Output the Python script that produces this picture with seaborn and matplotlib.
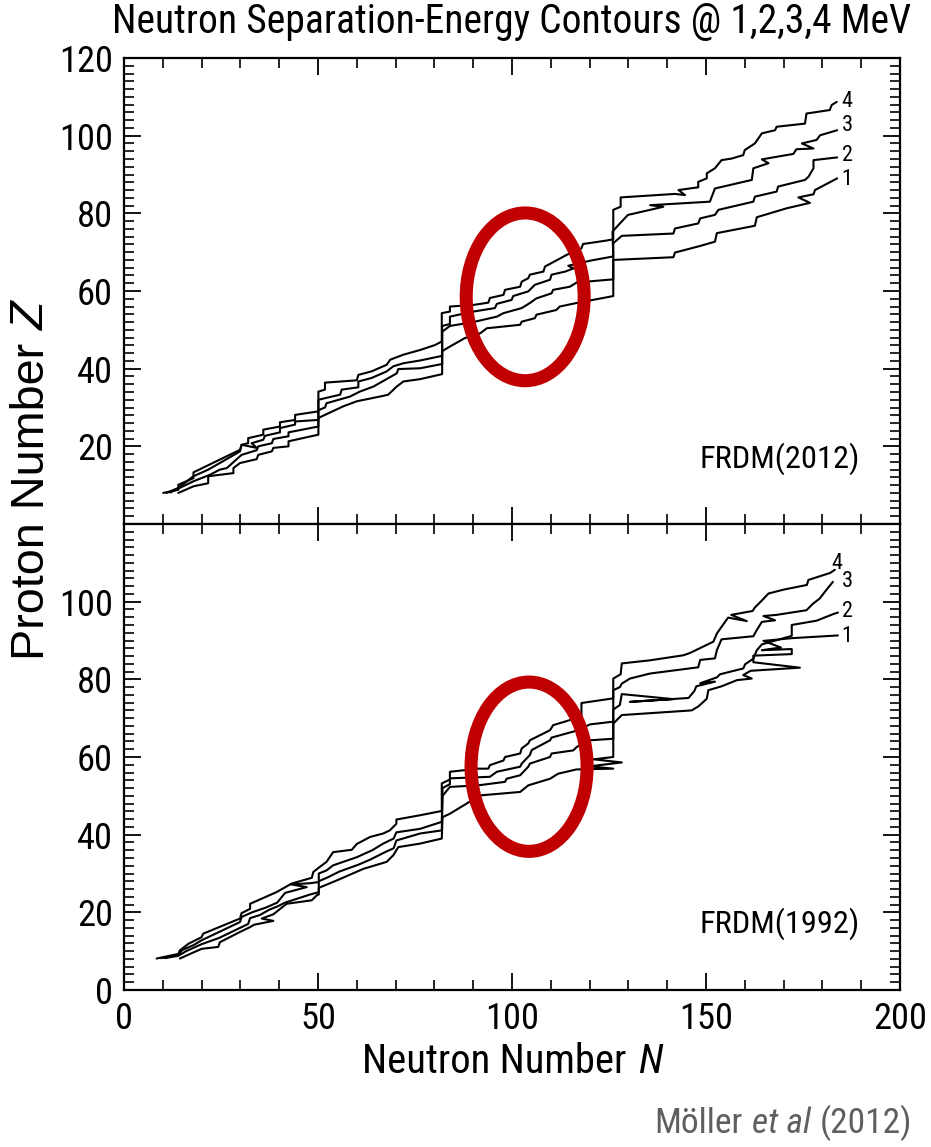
import numpy as np
import matplotlib
matplotlib.use("Agg")
import matplotlib.pyplot as plt
import seaborn as sns
from matplotlib.patches import Ellipse
from matplotlib.ticker import MultipleLocator
from matplotlib import font_manager as fm

# ---------------- data ----------------
# FRDM(2012) contours, S_n = 1,2,3,4 MeV
N_2012_1 = [14.0, 17.9, 21.7, 21.7, 28.2, 28.2, 29.9, 34.2, 34.6, 38.1, 38.5, 42.4, 42.4, 50.1, 50.1, 51.8, 56.5, 60.0, 66.8, 68.1, 70.3, 72.0, 76.3, 82.0, 82.0, 84.0, 87.9, 91.8, 93.5, 102.1, 102.5, 105.9, 106.3, 111.4, 112.3, 116.6, 126.1, 126.1, 141.6, 142.0, 148.5, 152.3, 152.8, 162.6, 163.1, 170.8, 176.8, 173.8, 177.7, 178.1, 183.8]
Z_2012_1 = [8.0, 9.7, 10.5, 12.3, 13.1, 14.4, 15.7, 16.7, 17.8, 18.7, 19.6, 20.0, 21.3, 23.0, 27.3, 28.1, 30.3, 31.6, 33.0, 33.3, 35.4, 36.7, 37.3, 38.6, 44.5, 45.7, 47.9, 49.1, 50.4, 51.3, 52.1, 53.0, 53.9, 55.1, 56.0, 56.9, 58.7, 68.0, 68.7, 69.9, 71.6, 72.7, 74.9, 76.8, 79.0, 81.3, 82.7, 84.1, 84.9, 86.0, 89.0]

N_2012_2 = [11.9, 17.9, 22.2, 24.7, 26.5, 30.3, 34.2, 34.6, 38.1, 38.5, 42.4, 42.4, 50.1, 50.1, 51.8, 52.2, 58.2, 60.8, 64.3, 70.3, 70.7, 76.3, 82.0, 82.0, 84.0, 90.0, 96.1, 97.8, 102.5, 104.6, 106.3, 110.2, 110.6, 114.9, 116.7, 126.1, 126.1, 128.3, 141.6, 142.0, 148.0, 148.5, 152.3, 153.2, 162.2, 162.6, 168.2, 168.6, 175.5, 176.4, 177.7, 177.7, 183.8]
Z_2012_2 = [8.1, 11.0, 12.7, 14.0, 14.4, 17.8, 19.0, 20.0, 20.8, 21.9, 22.6, 23.6, 25.1, 29.3, 30.0, 31.1, 32.8, 34.1, 35.4, 38.8, 39.9, 40.1, 41.2, 49.5, 51.0, 52.0, 53.4, 54.3, 55.6, 56.9, 58.1, 59.4, 60.3, 61.1, 62.2, 63.0, 72.3, 74.2, 74.8, 76.1, 77.4, 78.7, 79.6, 80.9, 83.0, 84.3, 85.6, 86.9, 88.6, 89.4, 91.6, 93.7, 94.4]

N_2012_3 = [11.0, 14.0, 17.9, 21.7, 24.7, 29.9, 30.3, 34.2, 32.9, 35.9, 36.3, 40.2, 40.2, 44.1, 44.1, 50.1, 50.1, 55.7, 56.1, 60.4, 60.4, 63.8, 67.7, 69.4, 72.0, 76.3, 82.0, 82.0, 84.0, 84.0, 90.0, 95.6, 96.1, 99.9, 100.3, 104.2, 105.9, 109.8, 110.2, 113.7, 115.8, 114.5, 120.1, 126.1, 125.9, 127.8, 129.9, 135.6, 139.0, 135.6, 151.0, 151.5, 152.3, 161.8, 162.2, 166.1, 164.4, 172.5, 173.3, 177.7, 174.7, 178.5, 179.4, 183.8]
Z_2012_3 = [8.0, 9.3, 12.3, 14.0, 15.7, 18.7, 20.4, 19.6, 20.8, 21.7, 22.7, 23.6, 24.7, 25.6, 26.4, 26.8, 32.0, 33.3, 34.6, 35.2, 36.7, 37.6, 39.3, 40.6, 41.4, 42.1, 43.3, 51.0, 51.5, 53.4, 54.7, 55.6, 56.7, 57.7, 58.7, 59.9, 61.6, 62.9, 64.2, 65.0, 65.8, 66.5, 67.8, 68.9, 75.3, 77.4, 79.6, 80.9, 81.7, 82.1, 83.0, 84.3, 86.4, 88.6, 91.6, 92.9, 93.9, 95.3, 96.5, 96.7, 98.0, 98.9, 100.1, 101.4]

N_2012_4 = [10.1, 14.0, 14.0, 17.9, 17.9, 29.9, 30.3, 32.0, 32.0, 35.9, 35.9, 40.2, 40.2, 44.1, 44.1, 50.1, 50.1, 51.8, 51.8, 60.0, 60.4, 63.8, 67.7, 68.6, 72.0, 76.3, 80.2, 81.9, 81.9, 84.0, 84.0, 90.0, 93.9, 94.3, 97.8, 98.2, 102.1, 102.5, 104.2, 104.6, 108.1, 108.5, 114.1, 117.9, 118.3, 124.4, 126.1, 126.1, 128.0, 128.0, 142.0, 144.6, 142.9, 148.0, 148.0, 150.2, 150.2, 152.3, 154.0, 156.6, 159.6, 160.0, 162.6, 164.4, 167.8, 168.2, 175.5, 175.9, 181.9, 182.4, 183.7]
Z_2012_4 = [8.0, 8.8, 10.1, 11.8, 13.3, 19.1, 20.4, 20.8, 22.1, 23.0, 24.3, 25.1, 26.2, 26.8, 28.1, 29.0, 34.1, 34.6, 36.4, 37.0, 38.4, 39.3, 41.0, 42.3, 43.6, 44.8, 46.1, 47.0, 54.3, 54.7, 56.0, 56.4, 57.0, 58.2, 59.0, 60.3, 61.1, 62.4, 63.3, 64.2, 65.0, 66.3, 69.3, 71.0, 72.1, 73.0, 73.3, 80.9, 81.7, 84.1, 85.0, 84.7, 86.0, 86.7, 88.1, 89.0, 90.3, 91.6, 93.7, 94.1, 95.0, 96.3, 98.0, 100.6, 101.4, 102.3, 103.1, 105.7, 106.6, 107.9, 108.7]

# FRDM(1992) contours, S_n = 1,2,3,4 MeV
N_1992_1 = [14.4, 17.5, 20.0, 24.3, 24.7, 30.0, 32.5, 33.5, 38.5, 35.5, 38.5, 41.9, 48.4, 49.7, 50.2, 50.2, 54.8, 61.7, 67.7, 69.4, 70.7, 76.3, 81.9, 82.1, 84.0, 88.3, 91.7, 102.1, 104.2, 109.8, 111.9, 116.6, 126.1, 120.0, 128.3, 121.0, 126.1, 126.1, 128.3, 146.3, 148.0, 150.2, 150.6, 154.0, 158.0, 161.8, 159.6, 161.5, 174.2, 162.2, 162.2, 172.1, 172.1, 164.4, 169.3, 164.8, 172.1, 184.0]
Z_1992_1 = [8.1, 9.5, 10.6, 11.1, 12.3, 15.0, 16.2, 16.8, 17.8, 18.4, 19.5, 22.2, 23.1, 24.4, 24.6, 26.3, 28.2, 31.2, 33.0, 34.7, 36.8, 37.7, 39.0, 44.5, 45.4, 48.0, 50.1, 51.0, 52.7, 54.4, 55.7, 56.8, 57.0, 57.6, 58.6, 59.4, 60.0, 68.6, 70.8, 72.0, 73.0, 75.0, 77.2, 78.2, 79.8, 80.2, 81.1, 82.2, 83.0, 84.4, 86.1, 86.5, 87.8, 87.5, 88.2, 89.9, 90.6, 91.3]

N_1992_2 = [10.5, 14.0, 16.0, 20.0, 24.5, 29.9, 32.0, 32.5, 35.0, 37.5, 39.5, 41.5, 48.0, 50.2, 50.2, 52.5, 55.5, 60.5, 63.5, 67.5, 69.5, 70.2, 76.3, 81.9, 82.1, 84.0, 91.3, 98.2, 98.6, 102.1, 104.2, 104.6, 109.8, 110.2, 115.8, 116.7, 120.1, 126.1, 126.1, 127.8, 128.3, 141.6, 130.4, 145.5, 147.0, 147.5, 152.3, 148.5, 152.8, 153.6, 159.6, 160.1, 162.2, 163.1, 164.4, 172.1, 172.1, 178.5, 182.8, 184.0]
Z_1992_2 = [8.2, 8.8, 10.0, 11.8, 13.4, 16.0, 17.0, 18.5, 19.3, 20.7, 21.5, 22.5, 24.6, 25.2, 28.0, 29.0, 30.5, 32.3, 33.6, 35.6, 36.5, 38.5, 40.3, 41.1, 50.0, 52.3, 52.7, 53.6, 54.4, 55.3, 57.5, 58.3, 60.0, 60.9, 61.7, 62.6, 64.3, 64.7, 72.2, 73.4, 76.2, 74.9, 74.2, 75.2, 77.0, 78.2, 79.4, 79.0, 80.5, 81.3, 82.8, 83.9, 85.3, 87.5, 89.0, 91.2, 94.0, 95.1, 96.8, 97.2]

N_1992_3 = [9.5, 14.0, 15.0, 18.0, 20.0, 29.9, 30.3, 33.0, 36.5, 39.5, 41.5, 47.1, 43.0, 48.0, 50.2, 50.2, 52.2, 53.9, 60.0, 64.0, 66.8, 69.5, 70.2, 76.3, 81.9, 82.1, 84.0, 84.0, 94.3, 96.1, 102.1, 102.5, 104.6, 105.1, 109.8, 110.2, 117.1, 120.1, 126.1, 126.1, 127.8, 128.3, 130.4, 135.6, 148.0, 148.5, 152.3, 152.8, 154.0, 162.2, 163.1, 164.4, 167.8, 164.8, 168.2, 175.9, 177.6, 179.3, 181.0, 182.7]
Z_1992_3 = [8.2, 9.0, 10.3, 11.6, 12.8, 17.5, 18.8, 20.0, 21.2, 22.5, 25.0, 26.5, 27.2, 27.5, 27.8, 30.0, 30.8, 32.1, 34.2, 36.0, 37.7, 39.0, 40.6, 41.5, 43.3, 52.0, 53.0, 54.5, 54.9, 56.2, 57.5, 58.3, 60.5, 61.8, 64.3, 65.0, 66.9, 68.4, 69.1, 77.2, 78.0, 78.9, 80.2, 81.5, 83.1, 85.0, 85.4, 87.5, 90.3, 91.1, 92.7, 94.8, 95.2, 96.3, 96.6, 97.8, 99.5, 100.8, 103.0, 105.1]

N_1992_4 = [8.4, 14.0, 14.4, 16.6, 20.0, 20.4, 29.9, 30.3, 32.5, 32.5, 39.3, 43.2, 48.4, 48.8, 50.2, 52.2, 53.9, 58.7, 60.0, 63.4, 66.8, 68.5, 70.2, 70.2, 76.3, 81.9, 81.9, 84.0, 84.0, 91.3, 93.9, 94.3, 97.8, 98.2, 102.1, 102.5, 104.2, 104.6, 109.8, 110.6, 114.9, 117.9, 117.9, 126.1, 126.1, 128.0, 128.3, 135.6, 144.2, 145.9, 151.9, 152.8, 154.0, 155.7, 160.5, 156.5, 162.0, 162.6, 164.4, 166.1, 170.0, 176.0, 176.4, 182.0, 183.2]
Z_1992_4 = [8.1, 9.3, 10.2, 11.9, 13.6, 14.5, 18.4, 19.8, 20.9, 22.2, 25.2, 27.4, 28.9, 30.4, 31.5, 33.0, 35.5, 36.1, 37.6, 39.4, 40.3, 41.1, 42.8, 43.9, 45.0, 46.1, 53.2, 54.2, 56.2, 57.0, 57.0, 57.9, 59.1, 60.0, 60.9, 62.2, 63.5, 64.3, 66.9, 68.2, 69.5, 70.3, 73.9, 75.1, 80.2, 81.3, 84.1, 84.9, 86.2, 86.8, 89.7, 91.8, 93.5, 95.9, 95.0, 96.6, 97.6, 98.5, 100.3, 102.1, 103.1, 104.3, 105.6, 107.4, 108.2]

contour_names = ["1", "2", "3", "4"]
label_N_2012 = [185.0, 185.0, 185.0, 185.0]
label_Z_2012 = [88.8, 95.0, 102.5, 108.9]
label_N_1992 = [185.0, 185.0, 185.0, 182.4]
label_Z_1992 = [91.1, 97.4, 105.1, 109.9]

x_ticks = [0, 50, 100, 150, 200]
y_ticks = [0, 20, 40, 60, 80, 100, 120]
y_labels_top = ["", "20", "40", "60", "80", "100", "120"]
y_labels_bot = ["0", "20", "40", "60", "80", "100", ""]

title = "Neutron Separation-Energy Contours @ 1,2,3,4 MeV"
model_2012 = "FRDM(2012)"
model_1992 = "FRDM(1992)"

# ---------------- style ----------------
sns.set_style("ticks")
avail = {f.name for f in fm.fontManager.ttflist}
FONT = "Liberation Sans"
for cand in ["Liberation Sans Narrow", "Arial Narrow", "Roboto Condensed"]:
    if cand in avail:
        FONT = cand
        break
REG = "Liberation Sans"
plt.rcParams["font.family"] = [FONT, "DejaVu Sans"]
for k in ["text.color", "axes.labelcolor", "xtick.color", "ytick.color", "axes.edgecolor"]:
    plt.rcParams[k] = "black"

W, H = 931, 1147
fig = plt.figure(figsize=(W / 100, H / 100), dpi=100)
renderer = fig.canvas.get_renderer()


def fit_size(s, target_px, family, style="normal", ref=20.0):
    t = fig.text(0, 0, s, fontsize=ref, family=[family, "DejaVu Sans"], style=style)
    w = t.get_window_extent(renderer).width
    t.remove()
    return ref * target_px / w


TICK_SIZE = fit_size("100", 54, FONT)

ax_top = fig.add_axes([124 / W, 1 - 524 / H, 776 / W, 466 / H])
ax_bot = fig.add_axes([124 / W, 1 - 990 / H, 776 / W, 466 / H])

RED = "#c00000"
MODEL_SIZE = fit_size(model_2012, 160, FONT)
NUM_SIZE = fit_size("4", 11, FONT)

panels = [
    (ax_top, [(N_2012_1, Z_2012_1), (N_2012_2, Z_2012_2), (N_2012_3, Z_2012_3), (N_2012_4, Z_2012_4)],
     label_N_2012, label_Z_2012, model_2012, 16.9, y_labels_top, (103.4, 58.5, 30.4, 43.2)),
    (ax_bot, [(N_1992_1, Z_1992_1), (N_1992_2, Z_1992_2), (N_1992_3, Z_1992_3), (N_1992_4, Z_1992_4)],
     label_N_1992, label_Z_1992, model_1992, 17.2, y_labels_bot, (104.4, 57.5, 29.9, 43.6)),
]

for ax, lines, lN, lZ, model, model_z, ylabs, ell in panels:
    for N, Z in lines:
        sns.lineplot(x=np.array(N), y=np.array(Z), sort=False, estimator=None,
                     color="black", lw=1.5, ax=ax, legend=False)
    for name, xn, yz in zip(contour_names, lN, lZ):
        ax.text(xn, yz, name, ha="left", va="center", fontsize=NUM_SIZE, color="black")
    ax.text(189.7, model_z, model, ha="right", va="center", fontsize=MODEL_SIZE, color="black")
    cx, cy, ew, eh = ell
    ax.add_patch(Ellipse((cx, cy), ew, eh, fill=False, edgecolor=RED, lw=9.4, zorder=5))
    ax.set_xlim(0, 200)
    ax.set_ylim(0, 120)
    ax.set_xticks(x_ticks)
    ax.set_yticks(y_ticks)
    ax.set_yticklabels(ylabs)
    ax.xaxis.set_minor_locator(MultipleLocator(10))
    ax.yaxis.set_minor_locator(MultipleLocator(2))
    ax.tick_params(which="both", direction="in", top=True, right=True, left=True, bottom=True,
                   color="black", labelcolor="black")
    ax.tick_params(which="major", length=12.5, width=1.3, labelsize=TICK_SIZE, pad=8)
    ax.tick_params(which="minor", length=7.5, width=1.2)
    ax.set_xlabel("")
    ax.set_ylabel("")
    for sp in ax.spines.values():
        sp.set_linewidth(1.6)
        sp.set_color("black")

ax_top.tick_params(labelbottom=False)

# ---------------- figure texts ----------------
TITLE_SIZE = fit_size(title, 795, FONT)
fig.text(512 / W, 1 - 33 / H, title, ha="center", va="baseline", fontsize=TITLE_SIZE, color="black")


def _make(pieces, size, family, color, vertical):
    items, total = [], 0.0
    for p in pieces:
        if isinstance(p, (int, float)):
            g = p * size * fig.dpi / 72.0
            items.append((None, g))
            total += g
        else:
            s, st = p
            t = fig.text(0, 0, s, fontsize=size, family=[family, "DejaVu Sans"], style=st, color=color,
                         rotation=90 if vertical else 0,
                         ha="center" if vertical else "left",
                         va="bottom" if vertical else "baseline")
            bb = t.get_window_extent(renderer)
            L = bb.height if vertical else bb.width
            items.append((t, L))
            total += L
    return items, total


def place_pieces(pieces, pos_px, other_px, align, target_px, family, color="black", vertical=False):
    size = 20.0
    for _ in range(3):
        items, total = _make(pieces, size, family, color, vertical)
        for t, _L in items:
            if t is not None:
                t.remove()
        size = size * target_px / total
    items, total = _make(pieces, size, family, color, vertical)
    if align == "center":
        start = pos_px - total / 2
    elif align == "right":
        start = pos_px - total
    else:
        start = pos_px
    cur = start
    for t, L in items:
        if t is not None:
            if vertical:
                t.set_position((other_px / W, cur / H))
            else:
                t.set_position((cur / W, other_px / H))
        cur += L


# x label (centre x=512 px, baseline y=1073 px from top, width 300 px)
place_pieces([("Neutron Number", "normal"), 0.28, ("N", "italic")], 512, H - 1073, "center", 300, FONT)
# y label (centre y=481 px from top, x=32 px, length 358 px)
place_pieces([("Proton Number", "normal"), 0.28, ("Z", "italic")], H - 481, 32, "center", 358, REG,
             vertical=True)
# credit
place_pieces([("Möller", "normal"), 0.25, ("et al", "italic"), 0.25, ("(2012)", "normal")],
             912, H - 1133, "right", 257, FONT, color="#5f5f5f")

fig.savefig("out.png", dpi=100)
